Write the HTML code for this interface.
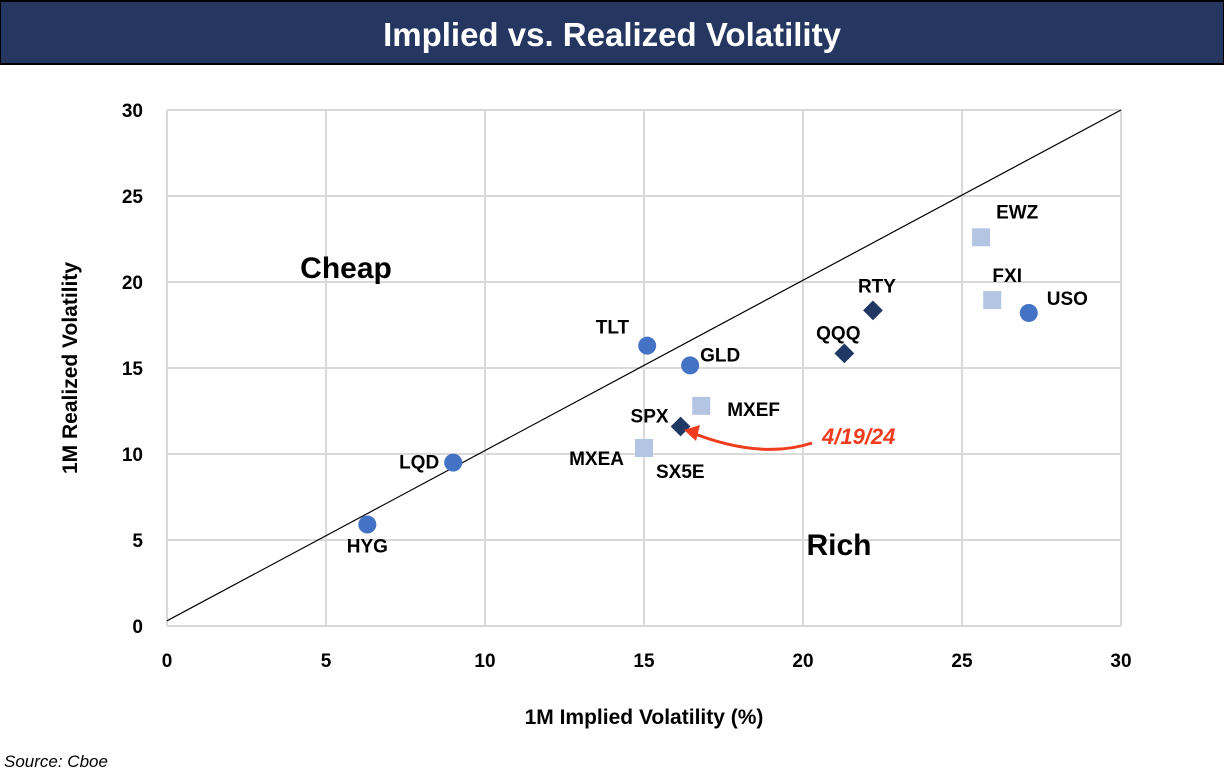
<!DOCTYPE html>
<html><head><meta charset="utf-8"><style>
body{margin:0;background:#fff;width:1224px;height:776px;overflow:hidden;font-family:"Liberation Sans",sans-serif}
</style></head><body>
<svg width="1224" height="776" font-family="Liberation Sans, sans-serif">
<rect x="0" y="1" width="1224" height="63" fill="#253760" stroke="#000" stroke-width="2"/>
<text x="612" y="46" text-anchor="middle" fill="#fff" font-size="33" font-weight="bold">Implied vs. Realized Volatility</text>
<g id="grid"></g>
<g id="axes"></g>
<line id="diag" stroke="#000" stroke-width="1.2"/>
<g id="marks"></g>
<text x="346" y="278" text-anchor="middle" font-size="30" font-weight="bold">Cheap</text>
<text x="839" y="555" text-anchor="middle" font-size="30" font-weight="bold">Rich</text>
<path d="M812,443 Q760,460 690,432" fill="none" stroke="#f03c1e" stroke-width="3"/>
<polygon points="684,430 700,425 696,441" fill="#f03c1e"/>
<text x="822" y="444" font-size="22" font-weight="bold" font-style="italic" fill="#f03c1e">4/19/24</text>
<text x="644" y="724" text-anchor="middle" font-size="21" font-weight="bold">1M Implied Volatility (%)</text>
<text transform="translate(77,368) rotate(-90)" text-anchor="middle" font-size="21" font-weight="bold">1M Realized Volatility</text>
<text x="4" y="767" font-size="17" font-style="italic">Source: Cboe</text>
</svg>
<script>
const names=["HYG","LQD","TLT","GLD","USO","SPX","QQQ","RTY","MXEF","MXEA/SX5E","EWZ","FXI"];
const implied=[6.3,9.0,15.1,16.45,27.1,16.15,21.3,22.2,16.8,15.0,25.6,25.95];
const realized=[5.9,9.5,16.3,15.15,18.2,11.6,15.85,18.35,12.8,10.35,22.6,18.95];
const kinds=["c","c","c","c","c","d","d","d","s","s","s","s"];
const ticks=[0,5,10,15,20,25,30];
const X=v=>167+v*(1121-167)/30, Y=v=>626-v*(626-110)/30;
const ns="http://www.w3.org/2000/svg";
function mk(p,t,a){const e=document.createElementNS(ns,t);for(const k in a)e.setAttribute(k,a[k]);document.getElementById(p).appendChild(e);return e;}
ticks.forEach(t=>{
 let l=mk("grid","line",{x1:X(t),x2:X(t),y1:Y(0),y2:Y(30),stroke:"#d9d9d9","stroke-width":2});
 
 
 l=mk("grid","line",{x1:X(0),x2:X(30),y1:Y(t),y2:Y(t),stroke:"#d9d9d9","stroke-width":2});
 
 
 let a=mk("axes","text",{x:X(t),y:667,"text-anchor":"middle","font-size":19,"font-weight":"bold"});a.textContent=t;
 
 
 a=mk("axes","text",{x:143,y:Y(t)+7,"text-anchor":"end","font-size":19,"font-weight":"bold"});a.textContent=t;
 
 
});
const d=document.getElementById("diag");
d.setAttribute("x1",X(0));d.setAttribute("y1",Y(0.3));d.setAttribute("x2",X(30));d.setAttribute("y2",Y(30));
const lab={HYG:[0,21,"middle"],LQD:[-14,-1,"end"],TLT:[-18,-19,"end"],GLD:[10,-11,"start"],USO:[18,-15,"start"],SPX:[-12,-11,"end"],QQQ:[-6,-21,"middle"],RTY:[4,-25,"middle"],MXEF:[26,3,"start"]
,EWZ:[15,-26,"start"],FXI:[15,-25,"middle"]};
names.forEach((n,i)=>{
 const cx=X(implied[i]),cy=Y(realized[i]);let e;
 if(kinds[i]=="c")e=mk("marks","circle",{cx,cy,r:9,fill:"#4472c4"});
 else if(kinds[i]=="d")e=mk("marks","rect",{x:cx-7,y:cy-7,width:14,height:14,fill:"#203864",transform:`rotate(45 ${cx} ${cy})`});
 else e=mk("marks","rect",{x:cx-9,y:cy-9,width:18,height:18,fill:"#b4c5e4"});
 
 
 const add=(t,dx,dy,an)=>{const tx=mk("marks","text",{x:cx+dx,y:cy+dy+7,"text-anchor":an,"font-size":19,"font-weight":"bold"});tx.textContent=t;
  
  };
 if(n=="MXEA/SX5E"){add("MXEA",-20,10,"end");add("SX5E",12,23,"start");}
 else add(n,...lab[n]);
});
</script>
</body></html>
